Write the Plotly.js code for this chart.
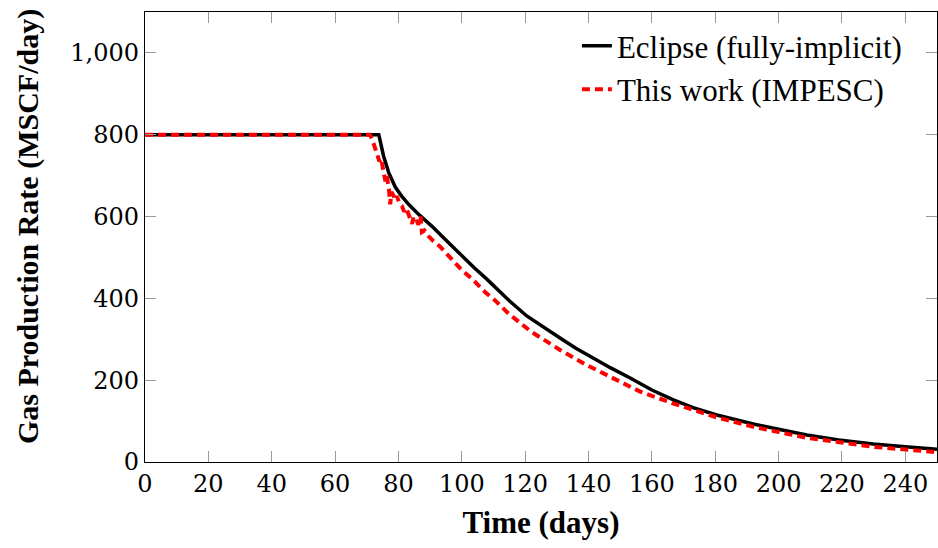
<!DOCTYPE html>
<html>
<head>
<meta charset="utf-8">
<script src="https://cdn.plot.ly/plotly-3.0.1.min.js"></script>
<style>html,body{margin:0;padding:0;background:#fff;}#chart{width:938px;height:548px;}</style>
</head>
<body>
<div id="chart"></div>
<script>
// Eclipse (fully-implicit) gas production rate
var eclipseTime = [0, 73.8, 74.5, 75.3, 76.9, 79, 81, 83.2, 86, 88.5, 90.6, 94, 97.3, 100, 104, 107.9, 110, 115, 120.5, 126, 131, 136, 141.5, 147, 153, 156.3, 160, 166.8, 173, 180.5, 186, 192, 200, 208.9, 219, 229.9, 240, 250];
var eclipseRate = [800, 800, 776, 748, 708, 672, 650, 630, 608, 592, 576, 550, 524, 503, 474, 447, 431, 394, 357, 328, 303, 278, 253, 230, 206, 192, 176, 152, 133, 115, 104, 93, 80, 66, 54, 44, 37, 31];
// This work (IMPESC) gas production rate
var impescTime = [0, 71, 71.7, 72.5, 73.2, 74, 74.5, 75.3, 75.9, 76.3, 77, 77.4, 77.8, 78.5, 79, 79.5, 80.3, 81.1, 81.8, 82.5, 83.2, 84.3, 84.8, 85.6, 86.3, 87, 87.4, 88.2, 89.5, 91, 93.1, 96.8, 100, 103.7, 107.4, 110.5, 114.7, 122, 131, 139.4, 144.7, 151, 156.3, 166.8, 180.5, 192, 208.9, 229.9, 250];
var impescRate = [800, 800, 789, 770, 748, 735, 742, 712, 686, 700, 668, 630, 660, 650, 640, 650, 632, 626, 612, 620, 605, 582, 600, 594, 580, 600, 562, 566, 552, 540, 527, 497, 469, 444, 415, 395, 363, 318, 274, 237, 217, 192, 172, 143, 109, 86, 59, 37, 24];
var seriesNames = ["Eclipse (fully-implicit)", "This work (IMPESC)"];
var xTitle = "Time (days)";
var yTitle = "Gas Production Rate (MSCF/day)";

var traces = [
  {x: eclipseTime, y: eclipseRate, name: seriesNames[0], mode: "lines", type: "scatter",
   line: {color: "#000000", width: 3.5}},
  {x: impescTime, y: impescRate, name: seriesNames[1], mode: "lines", type: "scatter",
   line: {color: "#ff0000", width: 4, dash: "8px,5px"}}
];

var tickFont = {family: "DejaVu Serif", size: 24, color: "#000"};
var layout = {
  width: 938, height: 548,
  margin: {l: 145, r: 1, t: 12, b: 86},
  paper_bgcolor: "#fff", plot_bgcolor: "#fff",
  showlegend: true,
  legend: {x: 0.962, xanchor: "right", y: 0.984, yanchor: "top",
           bgcolor: "rgba(0,0,0,0)", borderwidth: 0,
           font: {family: "Liberation Serif", size: 31, color: "#000"},
           tracegroupgap: 0},
  xaxis: {range: [0, 250], dtick: 20, tick0: 0, showgrid: false, zeroline: false,
          showline: true, linecolor: "#000", linewidth: 1.2, mirror: "ticks",
          ticks: "inside", ticklen: 11, tickcolor: "#999", tickwidth: 1,
          tickfont: tickFont,
          title: {text: "<b>" + xTitle + "</b>", font: {family: "Liberation Serif", size: 31, color: "#000"}, standoff: 14}},
  yaxis: {range: [0, 1100], dtick: 200, tick0: 0, tickformat: ",d", showgrid: false, zeroline: false,
          showline: true, linecolor: "#000", linewidth: 1.2, mirror: "ticks",
          ticks: "inside", ticklen: 11, tickcolor: "#999", tickwidth: 1,
          tickfont: tickFont},
  annotations: [
    {text: "<b>" + yTitle + "</b>", xref: "paper", yref: "paper", x: -0.1477, y: 0.522,
     xanchor: "center", yanchor: "middle", textangle: -90, showarrow: false,
     font: {family: "Liberation Serif", size: 30, color: "#000"}}
  ]
};

Plotly.newPlot("chart", traces, layout, {displayModeBar: false, staticPlot: true});
</script>
</body>
</html>
